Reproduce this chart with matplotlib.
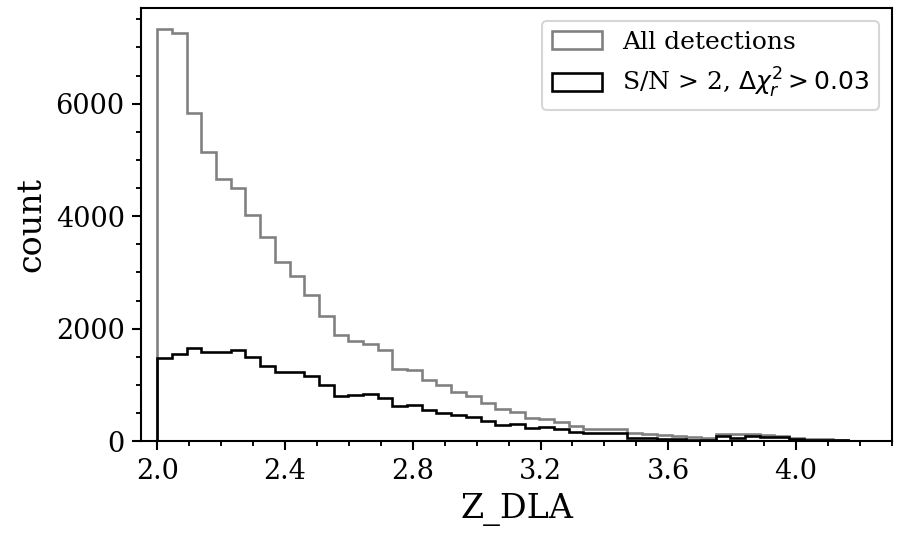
import numpy as np
import matplotlib
matplotlib.use('Agg')
import matplotlib.pyplot as plt
from matplotlib.ticker import MultipleLocator, AutoMinorLocator

plt.rcParams['font.family'] = 'DejaVu Serif'

# 50 bins of Z_DLA from 2.0 to 4.3
bin_edges = np.linspace(2.0, 4.3, 51)

all_counts = [7330, 7250, 5830, 5140, 4660, 4500, 4020, 3630, 3180, 2940,
              2600, 2220, 1890, 1790, 1730, 1620, 1290, 1260, 1080, 990,
              880, 800, 670, 570, 510, 420, 400, 340, 270, 225,
              225, 210, 150, 130, 105, 88, 68, 50, 125, 125,
              130, 105, 88, 65, 47, 36, 18, 5, 0, 0]

cut_counts = [1480, 1550, 1650, 1585, 1585, 1620, 1500, 1335, 1235, 1235,
              1160, 1000, 800, 820, 835, 770, 625, 640, 550, 495,
              463, 422, 362, 285, 303, 226, 255, 208, 155, 137,
              137, 137, 60, 60, 33, 33, 28, 28, 93, 65,
              93, 70, 70, 36, 28, 24, 18, 0, 0, 0]

labels = ['All detections', r'S/N > 2, $\Delta\chi^2_r > 0.03$']

fig, ax = plt.subplots(figsize=(6, 3.6), dpi=150)
fig.subplots_adjust(left=0.157, right=0.991, bottom=0.183, top=0.985)

centers = 0.5 * (bin_edges[:-1] + bin_edges[1:])
ax.hist(centers, bins=bin_edges, weights=all_counts, histtype='step',
        color='grey', lw=1.25, label=labels[0])
ax.hist(centers, bins=bin_edges, weights=cut_counts, histtype='step',
        color='black', lw=1.25, label=labels[1])

ax.set_xlim(1.95, 4.3)
ax.set_ylim(0, 7700)
ax.xaxis.set_major_locator(MultipleLocator(0.4))
ax.yaxis.set_major_locator(MultipleLocator(2000))
ax.xaxis.set_minor_locator(AutoMinorLocator(4))
ax.yaxis.set_minor_locator(AutoMinorLocator(4))
ax.tick_params(which='major', length=4.5, width=1.0, labelsize=13)
ax.tick_params(which='minor', length=2.5, width=0.9)
for s in ax.spines.values():
    s.set_linewidth(1.0)

ax.set_xlabel('Z_DLA', fontsize=16)
ax.set_ylabel('count', fontsize=16)
ax.legend(loc='upper right', fontsize=12)

fig.savefig('out.png', dpi=150)
